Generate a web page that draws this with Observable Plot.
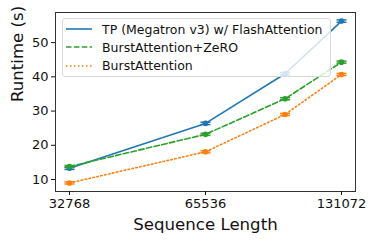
<!DOCTYPE html>
<html><head><meta charset="utf-8">
<script src="https://cdn.jsdelivr.net/npm/d3@7"></script>
<script src="https://cdn.jsdelivr.net/npm/@observablehq/plot@0.6"></script>
<style>
body{margin:0;background:#fff;font-family:"DejaVu Sans",sans-serif}
#wrap{position:relative;width:379px;height:243px}
#legend{position:absolute;left:62px;top:18px;width:269px;height:59px;border:1px solid #d9d9d9;border-radius:3px;background:rgba(255,255,255,0.8);box-sizing:border-box;font-size:12.5px;color:#111}
.row{position:absolute;left:0;height:18px;display:flex;align-items:center}
.row svg{margin-left:3px;margin-right:10px}
</style></head><body><div id="wrap"></div>
<script>
const seqLens = [32768, 65536, 98304, 131072];
const xTicks = [32768, 65536, 131072];
const yTicks = [10, 20, 30, 40, 50];
const seriesNames = ["TP (Megatron v3) w/ FlashAttention", "BurstAttention+ZeRO", "BurstAttention"];
const seriesColors = ["#1f77b4", "#2ca02c", "#ff7f0e"];
const seriesDash = [null, "5.5,2.4", "1.5,2.5"];
const tpRuntime = [13.3, 26.4, 40.9, 56.3];
const zeroRuntime = [13.8, 23.2, 33.6, 44.3];
const burstRuntime = [9.0, 18.1, 29.0, 40.7];
const tpErr = [0.35, 0.35, 0.35, 0.35];
const zeroErr = [0.3, 0.3, 0.3, 0.3];
const burstErr = [0.3, 0.3, 0.3, 0.3];

const allVals = [tpRuntime, zeroRuntime, burstRuntime];
const allErr = [tpErr, zeroErr, burstErr];
const table = [];
allVals.forEach((vals, s) => vals.forEach((v, i) => table.push({
  series: seriesNames[s], x: seqLens[i], y: v, lo: v - allErr[s][i], hi: v + allErr[s][i]
})));

const cap = {draw(ctx, size) { const w = Math.sqrt(size / Math.PI); ctx.moveTo(-w, 0); ctx.lineTo(w, 0); }};

const marks = [];
seriesNames.forEach((name, s) => {
  const d = table.filter(r => r.series === name);
  marks.push(Plot.line(d, {x: "x", y: "y", stroke: seriesColors[s], strokeWidth: 1.6, strokeDasharray: seriesDash[s]}));
  marks.push(Plot.ruleX(d, {x: "x", y1: "lo", y2: "hi", stroke: seriesColors[s], strokeWidth: 1.5}));
  marks.push(Plot.dot(d, {x: "x", y: "hi", symbol: cap, r: 5, stroke: seriesColors[s], strokeWidth: 1.5}));
  marks.push(Plot.dot(d, {x: "x", y: "lo", symbol: cap, r: 5, stroke: seriesColors[s], strokeWidth: 1.5}));
  marks.push(Plot.dot(d, {x: "x", y: "y", r: 2.8, fill: seriesColors[s]}));
});

const plot = Plot.plot({
  width: 379, height: 243,
  marginLeft: 55, marginRight: 24, marginTop: 12, marginBottom: 52,
  style: {fontFamily: "DejaVu Sans, sans-serif", background: "#fff", color: "#111"},
  x: {type: "log", base: 2, domain: [32768 * Math.pow(2, -14/136), 131072 * Math.pow(2, 14/136)]},
  y: {domain: [6.5, 58.8]},
  marks: [
    ...marks,
    Plot.frame({stroke: "#333", strokeWidth: 1}),
    Plot.axisX({ticks: xTicks, tickFormat: d => String(d), tickSize: 4, tickPadding: 3, fontSize: 13, label: null}),
    Plot.axisY({ticks: yTicks, tickFormat: d => String(d), tickSize: 4, tickPadding: 3, fontSize: 13, label: null}),
    Plot.text(["Sequence Length"], {frameAnchor: "bottom", lineAnchor: "middle", dy: 33, fontSize: 16.6, text: d => d}),
    Plot.text(["Runtime (s)"], {frameAnchor: "left", dx: -38, rotate: -90, fontSize: 16.6, text: d => d})
  ]
});
const wrap = document.getElementById("wrap");
wrap.appendChild(plot);

const legend = document.createElement("div");
legend.id = "legend";
seriesNames.forEach((name, s) => {
  const row = document.createElement("div");
  row.className = "row";
  row.style.top = (1 + s * 18.3) + "px";
  row.innerHTML = `<svg width="26" height="6"><line x1="0" y1="3" x2="26" y2="3" stroke="${seriesColors[s]}" stroke-width="1.6" ${seriesDash[s] ? `stroke-dasharray="${seriesDash[s]}"` : ""}/></svg><span>${name}</span>`;
  legend.appendChild(row);
});
wrap.appendChild(legend);
</script></body></html>
